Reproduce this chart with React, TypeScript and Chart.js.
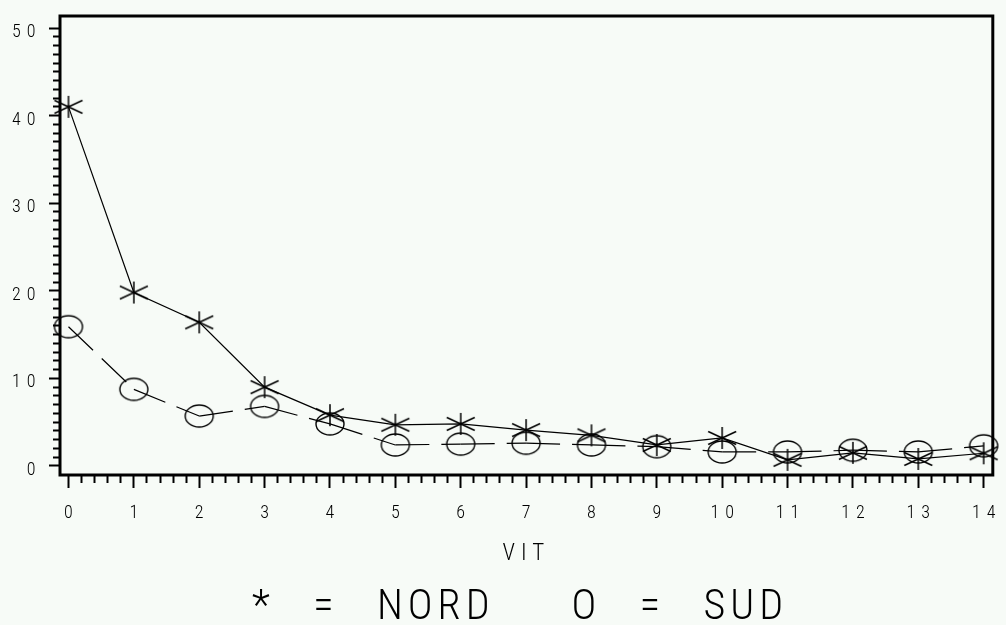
import React, { useEffect, useRef } from 'react';
import { Chart, registerables } from 'chart.js';

Chart.register(...registerables);

// ---- data ----
const VIT = [0, 1, 2, 3, 4, 5, 6, 7, 8, 9, 10, 11, 12, 13, 14];
const NORD = [41.0, 19.8, 16.4, 9.0, 5.8, 4.7, 4.8, 4.1, 3.5, 2.4, 3.2, 0.7, 1.5, 0.8, 1.45];
const SUD = [15.9, 8.75, 5.7, 6.8, 4.8, 2.4, 2.5, 2.6, 2.4, 2.2, 1.6, 1.6, 1.8, 1.6, 2.3];

const Y_MAJOR_STEP = 10;
const Y_MINOR_PER_MAJOR = 10;
const Y_TOP_TICK = 50;
const X_MINOR_PER_UNIT = 5;
const X_LAST_TICK = 14;

const X_MIN = -0.13;
const X_MAX = 14.14;
const Y_MIN = -1.03;
const Y_MAX = 51.37;

const X_TITLE = 'VIT';
const LEGEND_TEXT = '* = NORD  O = SUD';

const BG = '#f7fbf7';
const FONT = "'Roboto Condensed', 'Liberation Mono', monospace";

function makeStar(): HTMLCanvasElement {
  const c = document.createElement('canvas');
  c.width = 32;
  c.height = 24;
  const g = c.getContext('2d')!;
  g.strokeStyle = '#000';
  g.lineWidth = 1.5;
  g.beginPath();
  g.moveTo(16, 1); g.lineTo(16, 23);
  g.moveTo(2, 5.5); g.lineTo(30, 18.5);
  g.moveTo(2, 18.5); g.lineTo(30, 5.5);
  g.stroke();
  return c;
}

function makeEllipse(): HTMLCanvasElement {
  const c = document.createElement('canvas');
  c.width = 32;
  c.height = 26;
  const g = c.getContext('2d')!;
  g.strokeStyle = '#000';
  g.lineWidth = 1.4;
  g.beginPath();
  g.ellipse(16, 13, 14, 11, 0, 0, Math.PI * 2);
  g.stroke();
  return c;
}

const isWhole = (v: number, step: number) => Math.abs(v / step - Math.round(v / step)) < 1e-6;

const sasPlugin = {
  id: 'sasLook',
  afterLayout(chart: any) {
    const tb = chart.titleBlock;
    if (tb) tb.left = 42;
  },
  beforeDraw(chart: any) {
    const ctx = chart.ctx as any;
    ctx.letterSpacing = '5px';
    ctx.wordSpacing = '24px';
  },
  afterDatasetsDraw(chart: any) {
    const { ctx, chartArea: a } = chart;
    ctx.save();
    ctx.strokeStyle = '#000';
    ctx.lineWidth = 3;
    ctx.strokeRect(a.left, a.top, a.right - a.left, a.bottom - a.top);
    ctx.restore();
    (ctx as any).letterSpacing = '6px';
    (ctx as any).wordSpacing = '0px';
  },
  afterDraw(chart: any) {
    (chart.ctx as any).letterSpacing = '0px';
    (chart.ctx as any).wordSpacing = '0px';
  },
};

export default function App() {
  const ref = useRef<HTMLCanvasElement>(null);

  useEffect(() => {
    if (!ref.current) return;
    const star = makeStar();
    const ell = makeEllipse();

    const chart = new Chart(ref.current, {
      type: 'line',
      data: {
        datasets: [
          {
            label: 'NORD',
            data: VIT.map((v, i) => ({ x: v, y: NORD[i] })),
            borderColor: '#000',
            borderWidth: 1.2,
            pointStyle: star as any,
            pointRadius: 12,
            pointHoverRadius: 12,
            tension: 0,
            fill: false,
            clip: false as any,
          },
          {
            label: 'SUD',
            data: VIT.map((v, i) => ({ x: v, y: SUD[i] })),
            borderColor: '#000',
            borderWidth: 1.2,
            borderDash: [34, 12],
            segment: {
              borderDash: () => [34, 12],
              borderDashOffset: (ctx: any) => (ctx.p0DataIndex % 2 ? 0.001 : 0),
            },
            pointStyle: ell as any,
            pointRadius: 12,
            pointHoverRadius: 12,
            tension: 0,
            fill: false,
            clip: false as any,
          },
        ],
      },
      options: {
        responsive: false,
        animation: false,
        events: [],
        layout: { padding: { top: 16, right: 8, left: 0, bottom: 0 } },
        plugins: {
          legend: { display: false },
          tooltip: { enabled: false },
          title: {
            display: true,
            position: 'bottom',
            text: LEGEND_TEXT,
            color: '#000',
            padding: 0,
            font: { family: FONT, size: 42, weight: '300' as any, lineHeight: '33px' as any },
          },
        },
        scales: {
          x: {
            type: 'linear',
            min: X_MIN,
            max: X_MAX,
            border: { display: false },
            afterBuildTicks: (scale: any) => {
              const t = [];
              for (let i = 0; i <= X_LAST_TICK * X_MINOR_PER_UNIT; i++) t.push({ value: i / X_MINOR_PER_UNIT });
              scale.ticks = t;
            },
            afterFit: (scale: any) => {
              scale.height = 117;
              scale.paddingLeft = 0;
              scale.paddingRight = 0;
            },
            grid: {
              z: 1,
              drawOnChartArea: false,
              drawTicks: true,
              tickLength: 13,
              tickWidth: 2,
              tickColor: '#000',
              tickBorderDash: (ctx: any) => (ctx.tick && isWhole(ctx.tick.value, 1) ? [] : [8, 100]),
            },
            ticks: {
              z: 1,
              autoSkip: false,
              maxRotation: 0,
              padding: 15,
              labelOffset: 3,
              color: '#000',
              font: { family: FONT, size: 18, weight: '300' as any },
              callback: (value: any) => (isWhole(Number(value), 1) ? String(Math.round(Number(value))) : ''),
            },
            title: {
              display: true,
              text: X_TITLE,
              color: '#000',
              font: { family: FONT, size: 23, weight: '300' as any, lineHeight: 1 },
              padding: { top: 0, bottom: 26.5 },
            },
          },
          y: {
            type: 'linear',
            min: Y_MIN,
            max: Y_MAX,
            border: { display: false },
            afterBuildTicks: (scale: any) => {
              const t = [];
              const n = (Y_TOP_TICK / Y_MAJOR_STEP) * Y_MINOR_PER_MAJOR;
              for (let i = 0; i <= n; i++) t.push({ value: (i * Y_MAJOR_STEP) / Y_MINOR_PER_MAJOR });
              scale.ticks = t;
            },
            afterFit: (scale: any) => {
              scale.width = 60;
              scale.paddingTop = 0;
              scale.paddingBottom = 0;
            },
            grid: {
              z: 1,
              drawOnChartArea: false,
              drawTicks: true,
              tickLength: 11,
              tickWidth: 2,
              tickColor: '#000',
              tickBorderDash: (ctx: any) =>
                ctx.tick && isWhole(ctx.tick.value, Y_MAJOR_STEP) ? [] : [0, 4, 7, 100],
            },
            ticks: {
              z: 1,
              autoSkip: false,
              padding: 7.5,
              labelOffset: 4.5,
              color: '#000',
              font: { family: FONT, size: 18, weight: '300' as any },
              callback: (value: any) =>
                isWhole(Number(value), Y_MAJOR_STEP) ? String(Math.round(Number(value))) : '',
            },
          },
        },
      },
      plugins: [sasPlugin as any],
    });

    return () => chart.destroy();
  }, []);

  return (
    <div
      style={{
        position: 'fixed',
        left: 0,
        top: 0,
        width: 1006,
        height: 625,
        background: BG,
        overflow: 'hidden',
      }}
    >
      <canvas ref={ref} width={1006} height={625} style={{ display: 'block' }} />
    </div>
  );
}
